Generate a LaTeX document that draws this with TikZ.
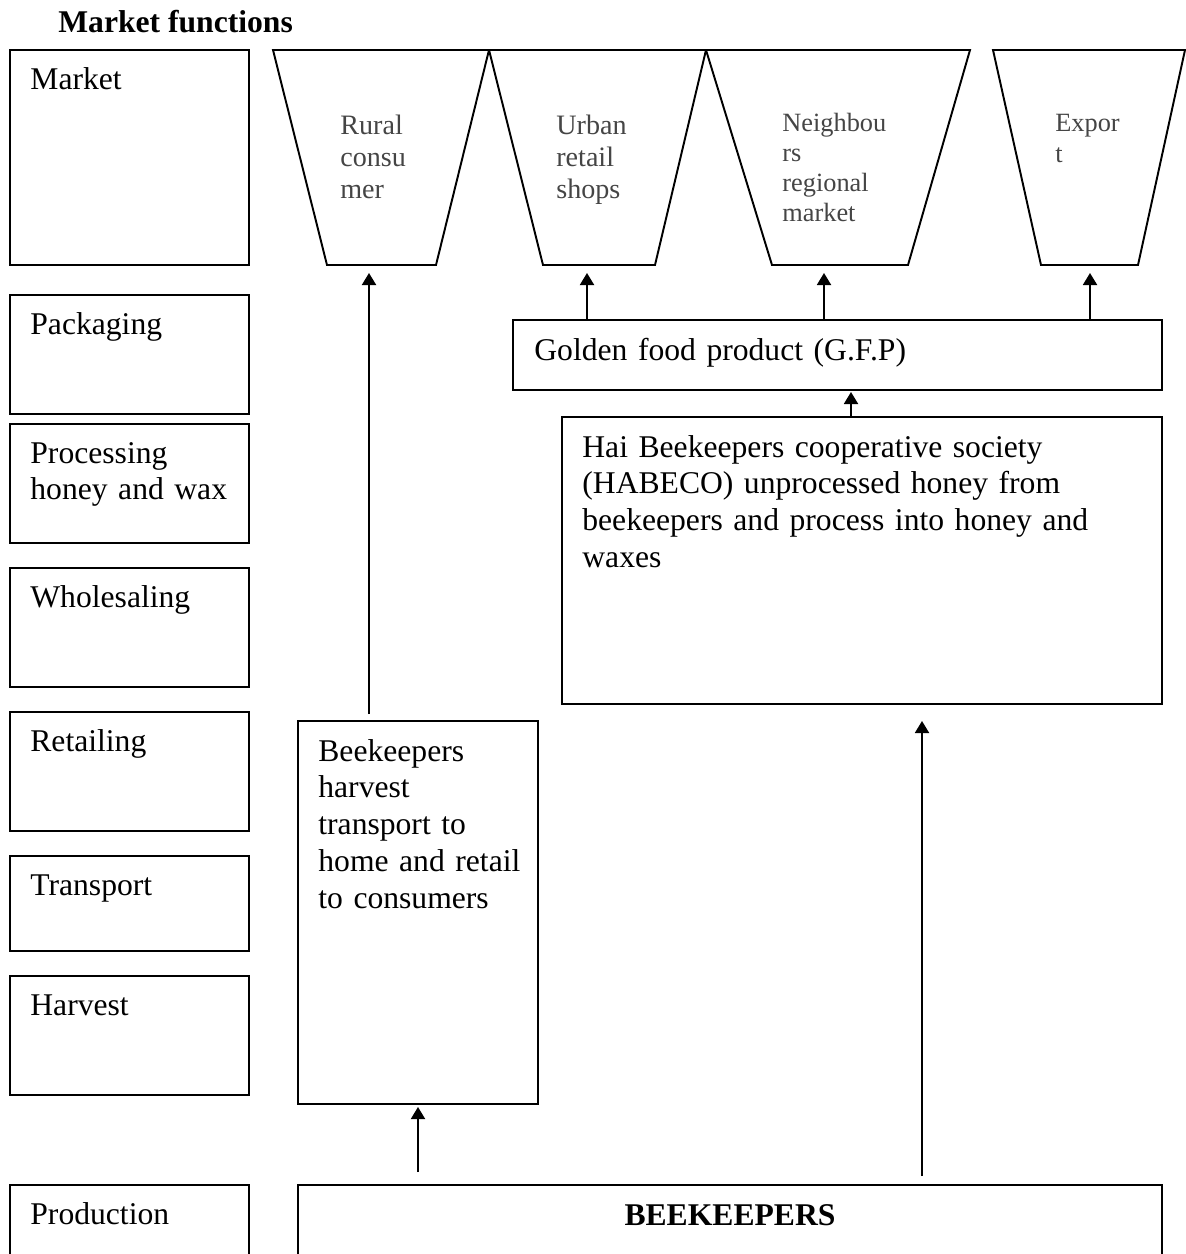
\documentclass[tikz,border=0pt]{standalone}
\usepackage{fontspec}
\setmainfont{Liberation Serif}
\usetikzlibrary{arrows.meta, positioning, fit}
\definecolor{shopGray}{HTML}{454545}

\begin{document}
\begin{tikzpicture}[x=0.02cm, y=-0.02cm,
    fbox/.style={rectangle, draw, line width=1.1pt, inner sep=0pt},
    txt/.style={anchor=base west, align=left, inner sep=0pt, text width=11cm,
                font=\fontsize{18}{21}\selectfont},
    shop/.style={draw, line width=1.1pt, line join=miter},
    shoptxt/.style={anchor=base west, align=left, inner sep=0pt, text width=3cm,
                    text=shopGray, font=\fontsize{16}{18.4}\selectfont},
    arr/.style={-{Triangle[length=0.24cm, width=0.28cm]}, line width=1.1pt},
  ]
    \useasboundingbox (0,0) rectangle (1186,1254);

    % title
    \node[anchor=base west, inner sep=0pt, font=\fontsize{18}{21}\selectfont\bfseries]
      (title) at (58,32) {Market functions};

    % market functions column
    \node[fbox, fit={(10,50) (249,265)}] (market) {};
    \node[txt] at ([shift={(21,40)}]market.north west) {Market};
    \node[fbox, fit={(10,295) (249,414)}] (packaging) {};
    \node[txt] at ([shift={(21,40)}]packaging.north west) {Packaging};
    \node[fbox, fit={(10,424) (249,543)}] (processing) {};
    \node[txt] at ([shift={(21,40)}]processing.north west) {Processing\\honey and wax};
    \node[fbox, fit={(10,568) (249,687)}] (wholesaling) {};
    \node[txt] at ([shift={(21,40)}]wholesaling.north west) {Wholesaling};
    \node[fbox, fit={(10,712) (249,831)}] (retailing) {};
    \node[txt] at ([shift={(21,40)}]retailing.north west) {Retailing};
    \node[fbox, fit={(10,856) (249,951)}] (transport) {};
    \node[txt] at ([shift={(21,40)}]transport.north west) {Transport};
    \node[fbox, fit={(10,976) (249,1095)}] (harvest) {};
    \node[txt] at ([shift={(21,40)}]harvest.north west) {Harvest};
    \node[fbox, fit={(10,1185) (249,1275)}] (production) {};
    \node[txt] at ([shift={(21,40)}]production.north west) {Production};

    % market outlets
    \draw[shop] (273,50) -- (489,50) -- (436,265) -- (327,265) -- cycle;
    \draw[shop] (489,50) -- (706,50) -- (655,265) -- (543,265) -- cycle;
    \draw[shop] (706,50) -- (970,50) -- (908,265) -- (772,265) -- cycle;
    \draw[shop] (993,50) -- (1185,50) -- (1138,265) -- (1041,265) -- cycle;
    \node[shoptxt] (ruraltxt) at (340,134) {Rural\\consu\\mer};
    \node[shoptxt] (urbantxt) at (556,134) {Urban\\retail\\shops};
    \node[shoptxt, font=\fontsize{15}{17.2}\selectfont] (neightxt) at (782,131)
      {Neighbou\\rs\\regional\\market};
    \node[shoptxt, font=\fontsize{15}{18}\selectfont] (exporttxt) at (1055,131) {Expor\\t};
    \coordinate (rural) at (369,265);
    \coordinate (urban) at (587,265);
    \coordinate (neigh) at (824,265);
    \coordinate (export) at (1090,265);

    % chain boxes
    \node[fbox, fit={(513,320) (1162,390)}] (gfp) {};
    \node[txt] at ([shift={(22,41)}]gfp.north west) {Golden food product (G.F.P)};
    \node[fbox, fit={(562,417) (1162,704)}] (habeco) {};
    \node[txt] at ([shift={(21,41)}]habeco.north west)
      {Hai Beekeepers cooperative society\\(HABECO) unprocessed honey from\\beekeepers and process into honey and\\waxes};
    \node[fbox, fit={(298,721) (538,1104)}] (selfsale) {};
    \node[txt] at ([shift={(21,41)}]selfsale.north west)
      {Beekeepers\\harvest\\transport to\\home and retail\\to consumers};
    \node[fbox, fit={(298,1185) (1162,1275)}] (beekeepers) {};
    \node[anchor=base, inner sep=0pt, font=\fontsize{18}{21}\selectfont\bfseries]
      at ([shift={(0,41)}]beekeepers.north) {BEEKEEPERS};
    \coordinate (gfpin) at (851,390);
    \coordinate (habin) at (922,704);
    \coordinate (selfin) at (418,1104);

    % Arrows
    \draw[arr, shorten <=0.12cm, shorten >=0.16cm] (selfsale.north -| rural) -- (rural);
    \draw[arr, shorten >=0.16cm] (gfp.north -| urban) -- (urban);
    \draw[arr, shorten >=0.16cm] (gfp.north -| neigh) -- (neigh);
    \draw[arr, shorten >=0.16cm] (gfp.north -| export) -- (export);
    \draw[arr, shorten >=0.04cm] (habeco.north -| gfpin) -- (gfpin);
    \draw[arr, shorten <=0.16cm, shorten >=0.34cm] (beekeepers.north -| habin) -- (habin);
    \draw[arr, shorten <=0.24cm, shorten >=0.06cm] (beekeepers.north -| selfin) -- (selfin);
  \end{tikzpicture}
\end{document}
